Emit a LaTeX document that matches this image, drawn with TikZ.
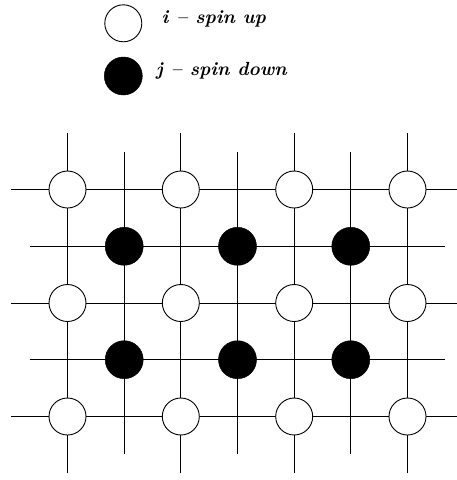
\documentclass[tikz,border=0pt]{standalone}
\usepackage{fontspec}
\begin{document}
\begin{tikzpicture}[x=1pt,y=-1pt,
  up/.style={circle,draw,fill=white,line width=0.9pt,minimum size=37pt,inner sep=0pt},
  down/.style={circle,draw,fill=black,line width=0.5pt,minimum size=38pt,inner sep=0pt},
  gridline/.style={line width=0.8pt},
  lbl/.style={font=\bfseries\itshape\fontsize{19}{22}\selectfont,anchor=base west,inner sep=0pt}]
\useasboundingbox (0,0) rectangle (457,480);
% white lattice lines
\foreach \i/\x in {1/67.5,2/180.8,3/294.2,4/407.5}{
  \coordinate (wt\i) at (\x,133);
  \coordinate (wb\i) at (\x,473);
  \draw[gridline] (wt\i) -- (wb\i);
}
\foreach \j/\y in {1/189.5,2/303,3/416.5}{
  \coordinate (wl\j) at (11,\y);
  \coordinate (wr\j) at (457,\y);
  \draw[gridline] (wl\j) -- (wr\j);
}
% black lattice lines
\foreach \i/\x in {1/124.2,2/237.5,3/350.8}{
  \coordinate (bt\i) at (\x,152);
  \coordinate (bb\i) at (\x,454);
  \draw[gridline] (bt\i) -- (bb\i);
}
\foreach \j/\y in {1/246.3,2/359.7}{
  \coordinate (bl\j) at (29.7,\y);
  \coordinate (br\j) at (445,\y);
  \draw[gridline] (bl\j) -- (br\j);
}
% sites
\foreach \i/\x in {1/67.5,2/180.8,3/294.2,4/407.5}{
  \foreach \j/\y in {1/189.5,2/303,3/416.5}{
    \node[up] (w\i\j) at (\x,\y) {};
  }
}
\foreach \i/\x in {1/124.2,2/237.5,3/350.8}{
  \foreach \j/\y in {1/246.3,2/359.7}{
    \node[down] (b\i\j) at (\x,\y) {};
  }
}
% legend
\node[up] (lu) at (123.3,23.3) {};
\node[down] (ld) at (123.3,76) {};
\node[lbl] (tu) at (161.5,23) {i -- spin up};
\node[lbl] (td) at (156,75) {j -- spin down};
\end{tikzpicture}
\end{document}
